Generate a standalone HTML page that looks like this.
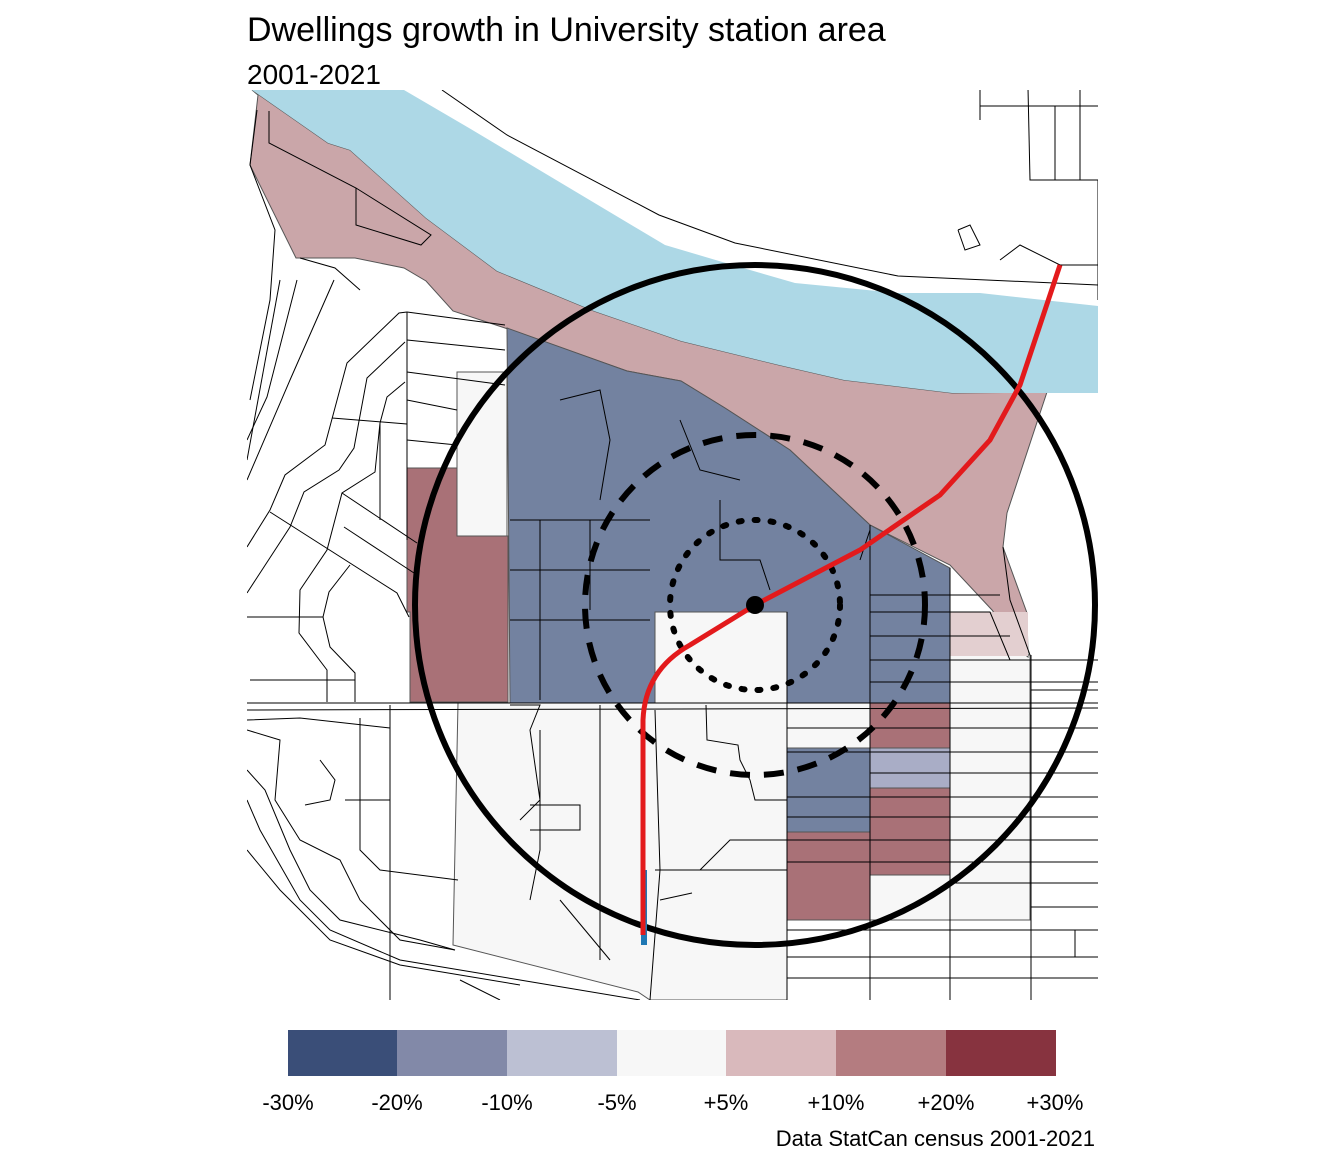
<!DOCTYPE html>
<html><head><meta charset="utf-8"><style>
body{margin:0;background:#fff;width:1344px;height:1152px;overflow:hidden;font-family:"Liberation Sans",Arial,sans-serif}
</style></head><body>
<svg width="1344" height="1152" viewBox="0 0 1344 1152" xmlns="http://www.w3.org/2000/svg" font-family="Liberation Sans, Arial, sans-serif">
<rect width="1344" height="1152" fill="#fff"/>
<text x="247" y="41" font-size="34" fill="#000">Dwellings growth in University station area</text>
<text x="247" y="84" font-size="28" fill="#000">2001-2021</text>
<clipPath id="c"><rect x="247" y="90" width="851" height="910"/></clipPath>
<g clip-path="url(#c)">
<polygon points="458,703 787,703 787,1000 650,1000 638,992 453,945" fill="#f7f7f7" stroke="#555" stroke-width="1"/>
<rect x="950" y="655" width="80" height="265" fill="#f7f7f7" stroke="#555"/>
<rect x="787" y="703" width="163" height="45" fill="#f7f7f7" stroke="#555"/>
<rect x="870" y="875" width="80" height="45" fill="#f7f7f7" stroke="#555"/>
<rect x="457" y="372" width="50" height="164" fill="#f7f7f7" stroke="#555"/>
<rect x="655" y="612" width="132" height="91" fill="#f7f7f7" stroke="#555"/>
<polygon points="252,90 328,143 350,150 426,218 497,271 594,311 681,341 779,365 844,380 952,393 1047,392 1007,513 1003,547 1027,613 1028,657 1022,652 992,610 950,565 870,525 790,450 725,408 681,381 627,371 505,328 453,311 426,281 404,268 355,258 296,258 250,165 258,95" fill="#caa6a9" stroke="#555" stroke-width="1"/>
<rect x="950" y="612" width="78" height="44" fill="#e3cfd0"/>
<polygon points="252,90 404,90 469,128 665,245 719,261 795,283 898,293 980,293 1098,306 1098,393 952,393 844,380 779,365 681,341 594,311 497,271 426,218 350,150 328,143" fill="#add8e6"/>
<polygon points="507,328 627,371 681,381 725,408 790,450 870,525 950,568 950,703 787,703 787,612 655,612 655,703 510,703" fill="#7382a0" stroke="#555" stroke-width="1"/>
<polygon points="407,468 457,468 457,536 508,536 508,702 410,702 410,612 407,612" fill="#a97177" stroke="#555"/>
<rect x="870" y="703" width="80" height="45" fill="#a97177" stroke="#555"/>
<rect x="870" y="748" width="80" height="40" fill="#a9adc6" stroke="#555"/>
<rect x="870" y="788" width="80" height="87" fill="#a97177" stroke="#555"/>
<rect x="787" y="748" width="83" height="84" fill="#7382a0" stroke="#555"/>
<rect x="787" y="832" width="83" height="88" fill="#a97177" stroke="#555"/>
<g stroke="#000" stroke-width="1" fill="none">
<polyline points="247,703 1098,703"/>
<polyline points="247,710 1098,708"/>
<polyline points="442,90 507,135 659,215 735,243 898,276 1098,285"/>
<polyline points="269,111 269,143 356,188 431,235 421,245 356,225 356,188"/>
<polyline points="980,88 980,120"/><polyline points="980,106 1098,106"/>
<polyline points="1028,88 1030,180 1098,180"/><polyline points="1055,106 1055,180"/><polyline points="1080,88 1080,180"/>
<polyline points="1098,180 1098,300"/>
<polyline points="958,230 970,225 980,245 965,250 958,230"/><polyline points="1000,260 1020,245 1060,265 1098,265"/>
<polyline points="407,312 399,313 347,363 325,445 285,475 270,510 247,547"/>
<polyline points="405,342 367,378 354,448 339,470 304,492 290,527 247,593"/>
<polyline points="405,382 387,397 380,423 375,472 342,493 327,550 300,590 299,633 327,670 327,702"/>
<polyline points="350,565 329,592 323,617 330,647 355,673 355,702"/>
<polyline points="270,512 397,593 409,617"/>
<polyline points="342,493 417,543"/><polyline points="344,527 414,573"/>
<polyline points="332,418 407,424"/><polyline points="380,423 380,520"/>
<polyline points="247,617 323,617"/><polyline points="250,680 355,680"/>
<polyline points="280,280 247,460"/><polyline points="297,280 267,397 247,440"/><polyline points="334,280 290,380 247,480"/>
<polyline points="257,110 250,165 275,230 270,300 250,400"/>
<polyline points="407,312 407,540"/><polyline points="407,312 505,325"/><polyline points="407,340 505,350"/>
<polyline points="407,372 505,385"/><polyline points="407,400 457,410"/><polyline points="407,440 457,445"/>
<polyline points="300,258 335,268 360,290"/>
<polyline points="247,720 300,718 390,728"/>
<polyline points="247,730 280,740 275,800 300,840 340,860 360,900 400,940 455,950"/>
<polyline points="247,770 265,790 290,850 310,890 340,920 420,940 455,950"/>
<polyline points="247,800 260,830 300,900 330,930 400,960 520,980 640,1000"/>
<polyline points="247,850 280,890 330,940 400,965 520,985"/>
<polyline points="360,718 360,850 380,870 458,880"/><polyline points="390,705 390,1000"/>
<polyline points="320,760 335,780 330,800 305,805"/><polyline points="345,800 390,800"/>
<polyline points="460,980 500,1000"/>
<polyline points="510,705 540,705 530,730 540,800 520,820"/>
<polyline points="540,730 540,850 530,900"/><polyline points="530,805 580,805 580,830 530,830"/>
<polyline points="600,705 600,960"/><polyline points="560,900 610,960"/>
<polyline points="655,710 660,870 650,1000"/><polyline points="655,870 787,870"/>
<polyline points="706,705 707,740 738,745 740,760 750,780 755,800 787,800"/>
<polyline points="700,870 730,840 787,840"/><polyline points="660,900 692,893"/>
<polyline points="787,612 787,1000"/><polyline points="870,525 870,1000"/>
<polyline points="950,568 950,1000"/><polyline points="1031,655 1031,1000"/>
<polyline points="787,728 1098,728"/><polyline points="787,752 1098,752"/><polyline points="870,773 1098,773"/>
<polyline points="787,797 1098,797"/><polyline points="787,817 1098,817"/><polyline points="787,840 1098,840"/>
<polyline points="787,862 1098,862"/><polyline points="950,883 1098,883"/><polyline points="1031,907 1098,907"/>
<polyline points="787,930 1098,930"/><polyline points="787,957 1098,957"/><polyline points="787,978 1098,978"/>
<polyline points="1075,930 1075,957"/>
<polyline points="870,595 1000,595"/><polyline points="870,612 990,612 1010,660"/><polyline points="870,636 1010,636"/>
<polyline points="870,660 1030,660 1098,660"/><polyline points="870,682 1098,682"/><polyline points="1031,690 1098,690"/>
<polyline points="1003,547 1010,600 1030,655"/>
<polyline points="510,520 650,520"/><polyline points="510,570 650,570"/><polyline points="510,620 650,620"/>
<polyline points="560,400 600,390 610,440 600,500"/><polyline points="680,420 700,470 740,480"/>
<polyline points="720,500 720,560 760,560 770,590"/><polyline points="540,520 540,700"/><polyline points="590,520 590,610"/>
<polyline points="860,560 870,530"/>
</g>
<circle cx="755" cy="605" r="340" fill="none" stroke="#000" stroke-width="6"/>
<circle cx="755" cy="605" r="170" fill="none" stroke="#000" stroke-width="6" stroke-dasharray="20,14"/>
<circle cx="755" cy="605" r="85" fill="none" stroke="#000" stroke-width="6" stroke-dasharray="3,13" stroke-linecap="round"/>
<line x1="644" y1="870" x2="644" y2="945" stroke="#1f78b4" stroke-width="6"/>
<path d="M643,935 L643,720 Q645,670 690,645 L755,605 L860,550 L940,495 L990,440 L1020,385 L1060,265" fill="none" stroke="#e31a1c" stroke-width="5"/>
<circle cx="755" cy="605" r="9" fill="#000"/>
</g>
<rect x="288" y="1030" width="110" height="46" fill="#3a4e78"/>
<rect x="397" y="1030" width="110" height="46" fill="#8289a8"/>
<rect x="507" y="1030" width="110" height="46" fill="#bcc0d3"/>
<rect x="617" y="1030" width="110" height="46" fill="#f7f7f7"/>
<rect x="726" y="1030" width="110" height="46" fill="#d9b9bc"/>
<rect x="836" y="1030" width="110" height="46" fill="#b47c80"/>
<rect x="946" y="1030" width="110" height="46" fill="#87333f"/>
<g font-size="22" fill="#000" text-anchor="middle">
<text x="288" y="1110">-30%</text><text x="397" y="1110">-20%</text><text x="507" y="1110">-10%</text>
<text x="617" y="1110">-5%</text><text x="726" y="1110">+5%</text><text x="836" y="1110">+10%</text>
<text x="946" y="1110">+20%</text><text x="1055" y="1110">+30%</text>
</g>
<text x="1095" y="1146" font-size="22" text-anchor="end">Data StatCan census 2001-2021</text>
</svg>
</body></html>
